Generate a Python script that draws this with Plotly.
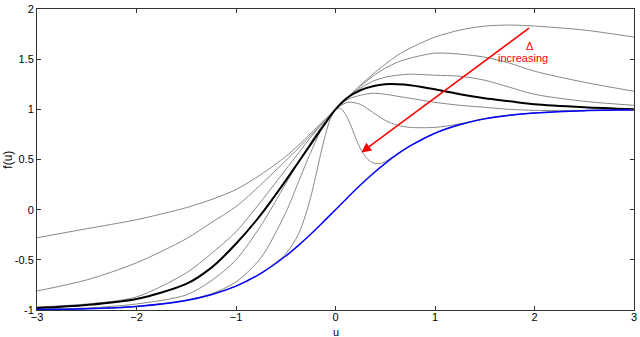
import plotly.graph_objects as go

# shared u grid for the smoother curves
u = [-3, -2.5, -2, -1.5, -1.25, -1, -0.75, -0.5, -0.375, -0.25, -0.125, 0,
     0.125, 0.25, 0.375, 0.5, 0.625, 0.75, 1, 1.25, 1.5, 1.75, 2, 2.5, 3]

# gray family, small delta -> large delta
g1 = [-0.28, -0.19, -0.10, 0.02, 0.10, 0.20, 0.35, 0.53, 0.64, 0.76, 0.88, 1.0,
      1.12, 1.24, 1.35, 1.45, 1.54, 1.61, 1.72, 1.79, 1.83, 1.84, 1.83, 1.79, 1.72]
g2 = [-0.81, -0.70, -0.53, -0.29, -0.13, 0.03, 0.25, 0.49, 0.61, 0.74, 0.87, 1.0,
      1.12, 1.23, 1.33, 1.41, 1.47, 1.51, 1.56, 1.55, 1.52, 1.46, 1.38, 1.27, 1.18]
g3 = [-0.97, -0.94, -0.87, -0.63, -0.44, -0.22, 0.08, 0.40, 0.56, 0.72, 0.87, 1.0,
      1.11, 1.21, 1.28, 1.32, 1.34, 1.35, 1.34, 1.33, 1.29, 1.22, 1.15, 1.08, 1.04]
g4 = [-0.99, -0.98, -0.94, -0.85, -0.71, -0.50, -0.16, 0.26, 0.47, 0.67, 0.85, 1.0,
      1.10, 1.14, 1.16, 1.15, 1.13, 1.11, 1.07, 1.04, 1.02, 1.0, 0.99, 0.99, 0.995]
g5 = [-0.995, -0.987, -0.964, -0.90, -0.84, -0.72, -0.48, -0.03, 0.27, 0.57, 0.83, 1.0,
      1.07, 1.05, 0.97, 0.89, 0.84, 0.82, 0.82, 0.855, 0.91, 0.943, 0.965, 0.987, 0.995]
black = [-0.98, -0.95, -0.89, -0.74, -0.58, -0.34, -0.05, 0.29, 0.47, 0.65, 0.83, 1.0,
         1.12, 1.19, 1.23, 1.25, 1.25, 1.24, 1.20, 1.15, 1.11, 1.08, 1.05, 1.02, 1.0]
blue = [-0.995, -0.987, -0.964, -0.905, -0.848, -0.762, -0.635, -0.462, -0.358, -0.245, -0.124, 0.0,
        0.124, 0.245, 0.358, 0.462, 0.555, 0.635, 0.762, 0.848, 0.905, 0.941, 0.964, 0.987, 0.995]

# the sharpest curve needs a finer grid
u6 = [-3, -2, -1.5, -1, -0.75, -0.5, -0.375, -0.3, -0.25, -0.2, -0.15, -0.1, -0.05, 0,
      0.05, 0.1, 0.15, 0.2, 0.25, 0.3, 0.35, 0.4, 0.45, 0.5, 0.6, 0.75, 1, 1.5, 2, 2.5, 3]
g6 = [-0.995, -0.964, -0.905, -0.762, -0.635, -0.44, -0.25, -0.05, 0.12, 0.33, 0.55, 0.75, 0.91, 1.0,
      1.01, 0.95, 0.85, 0.72, 0.61, 0.53, 0.48, 0.46, 0.46, 0.48, 0.54, 0.635, 0.762, 0.905, 0.964, 0.987, 0.995]

GRAY = "#888888"
fig = go.Figure()
for ys in [g1, g2, g3, g4, g5]:
    fig.add_trace(go.Scatter(x=u, y=ys, mode="lines",
                             line=dict(color=GRAY, width=1, shape="spline", smoothing=0.8)))
fig.add_trace(go.Scatter(x=u6, y=g6, mode="lines",
                         line=dict(color=GRAY, width=1, shape="spline", smoothing=0.8)))
fig.add_trace(go.Scatter(x=u, y=black, mode="lines",
                         line=dict(color="black", width=2, shape="spline", smoothing=0.8)))
fig.add_trace(go.Scatter(x=u, y=blue, mode="lines",
                         line=dict(color="#0000ff", width=1.5, shape="spline", smoothing=0.8)))

# red arrow, delta increasing
fig.add_annotation(x=0.26, y=0.57, ax=1.96, ay=1.82, xref="x", yref="y", axref="x", ayref="y",
                   text="", showarrow=True, arrowhead=2, arrowsize=1.3, arrowwidth=1.5, arrowcolor="#ff0000")
fig.add_annotation(x=1.95, y=1.63, text="Δ", showarrow=False, font=dict(color="#ff0000", size=11))
fig.add_annotation(x=1.88, y=1.51, text="increasing", showarrow=False, font=dict(color="#ff0000", size=11))

# axis titles
fig.add_annotation(x=0.5, y=-0.074, xref="paper", yref="paper", xanchor="center", yanchor="middle",
                   text="u", showarrow=False, font=dict(size=11, color="black"))
fig.add_annotation(x=-0.05, y=0.5, xref="paper", yref="y", xanchor="center", yanchor="middle",
                   text="f(u)", showarrow=False, textangle=-90, font=dict(size=12, color="black"))

axis = dict(showline=True, linecolor="#333333", linewidth=1, mirror="ticks", ticks="inside",
            ticklen=4, tickcolor="#333333", showgrid=False, zeroline=False,
            ticklabeloverflow="allow", tickfont=dict(size=11, color="black"))
fig.update_xaxes(range=[-3, 3], tickvals=[-3, -2, -1, 0, 1, 2, 3], ticklabelstandoff=-3, **axis)
fig.update_yaxes(range=[-1, 2], tickvals=[-1, -0.5, 0, 0.5, 1, 1.5, 2],
                 ticktext=["-1", "-0.5", "0", "0.5", "1", "1.5", "2"], **axis)

fig.update_layout(width=640, height=337, margin=dict(l=37, r=3, t=5, b=27),
                  plot_bgcolor="white", paper_bgcolor="white", showlegend=False,
                  font=dict(family="Liberation Sans, Arial, sans-serif"))
fig.write_html("out.html", config={"displayModeBar": False},
               post_script="document.body.style.margin='0px';document.body.style.overflow='hidden';")
